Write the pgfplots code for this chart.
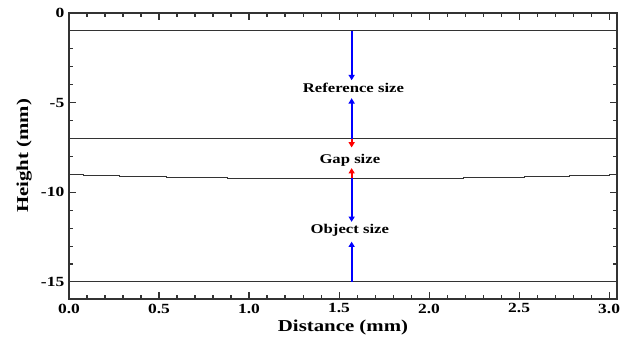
\documentclass[border=0pt]{standalone}
\usepackage{fontspec}
\setmainfont[FakeStretch=1.25]{Liberation Serif}
\usepackage{pgfplots}
\pgfplotsset{compat=1.18}
\usetikzlibrary{arrows.meta}
\begin{document}
\begin{tikzpicture}
\begin{axis}[
  scale only axis, width=411pt, height=214.5pt,
  xmin=0, xmax=3.044, ymin=-15.95, ymax=0,
  xtick={0,0.5,1.0,1.5,2.0,2.5,3.0}, minor x tick num=4,
  ytick={0,-5,-10,-15}, minor y tick num=4,
  tick align=inside,
  xticklabel={\pgfmathprintnumber[fixed,fixed zerofill,precision=1]{\tick}},
  /pgf/number format/assume math mode=true,
  ticklabel style={font=\bfseries\fontsize{10.5}{12}\selectfont},
  xlabel={Distance (mm)}, ylabel={Height (mm)},
  label style={font=\bfseries\fontsize{12.5}{14}\selectfont},
  xlabel style={yshift=2pt},
  axis line style={line width=1pt, black!80},
  tick style={black!80, line width=0.8pt},
  major tick length=5.5pt, minor tick length=3pt,
  clip=false,
]
\coordinate (bl) at (rel axis cs:0,0);
\coordinate (tr) at (rel axis cs:1,1);
\addplot[black!80, line width=0.8pt] coordinates {(0,-1) (3.044,-1)};
\addplot[black!80, line width=0.8pt] coordinates {(0,-7) (3.044,-7)};
\addplot[black!80, line width=0.8pt] coordinates {(0,-15) (3.044,-15)};
\addplot[black!80, line width=0.8pt, const plot] coordinates {(0,-9.03) (0.08,-9.07) (0.28,-9.13) (0.54,-9.19) (0.88,-9.24) (2.19,-9.19) (2.53,-9.13) (2.78,-9.07) (3.0,-9.03) (3.044,-9.03)};
\addplot[blue, line width=1.5pt, -{Triangle[length=4pt,width=4.5pt]}] coordinates {(1.57,-1) (1.57,-3.75)};
\addplot[blue, line width=1.5pt, -{Triangle[length=4pt,width=4.5pt]}] coordinates {(1.57,-7) (1.57,-4.75)};
\addplot[red, line width=1.5pt, -{Triangle[length=4pt,width=4.5pt]}] coordinates {(1.57,-7) (1.57,-7.5)};
\addplot[red, line width=1.5pt, -{Triangle[length=4pt,width=4.5pt]}] coordinates {(1.57,-9.22) (1.57,-8.65)};
\addplot[blue, line width=1.5pt, -{Triangle[length=4pt,width=4.5pt]}] coordinates {(1.57,-9.22) (1.57,-11.65)};
\addplot[blue, line width=1.5pt, -{Triangle[length=4pt,width=4.5pt]}] coordinates {(1.57,-15) (1.57,-12.75)};
\node[font=\bfseries\fontsize{10}{12}\selectfont] at (axis cs:1.58,-4.18) {Reference size};
\node[font=\bfseries\fontsize{10}{12}\selectfont] at (axis cs:1.56,-8.2) {Gap size};
\node[font=\bfseries\fontsize{10}{12}\selectfont] at (axis cs:1.56,-12.1) {Object size};
\end{axis}
\pgfresetboundingbox
\path ([shift={(-51.75pt,-30pt)}]bl) rectangle ([shift={(6.75pt,9.75pt)}]tr);
\end{tikzpicture}
\end{document}
